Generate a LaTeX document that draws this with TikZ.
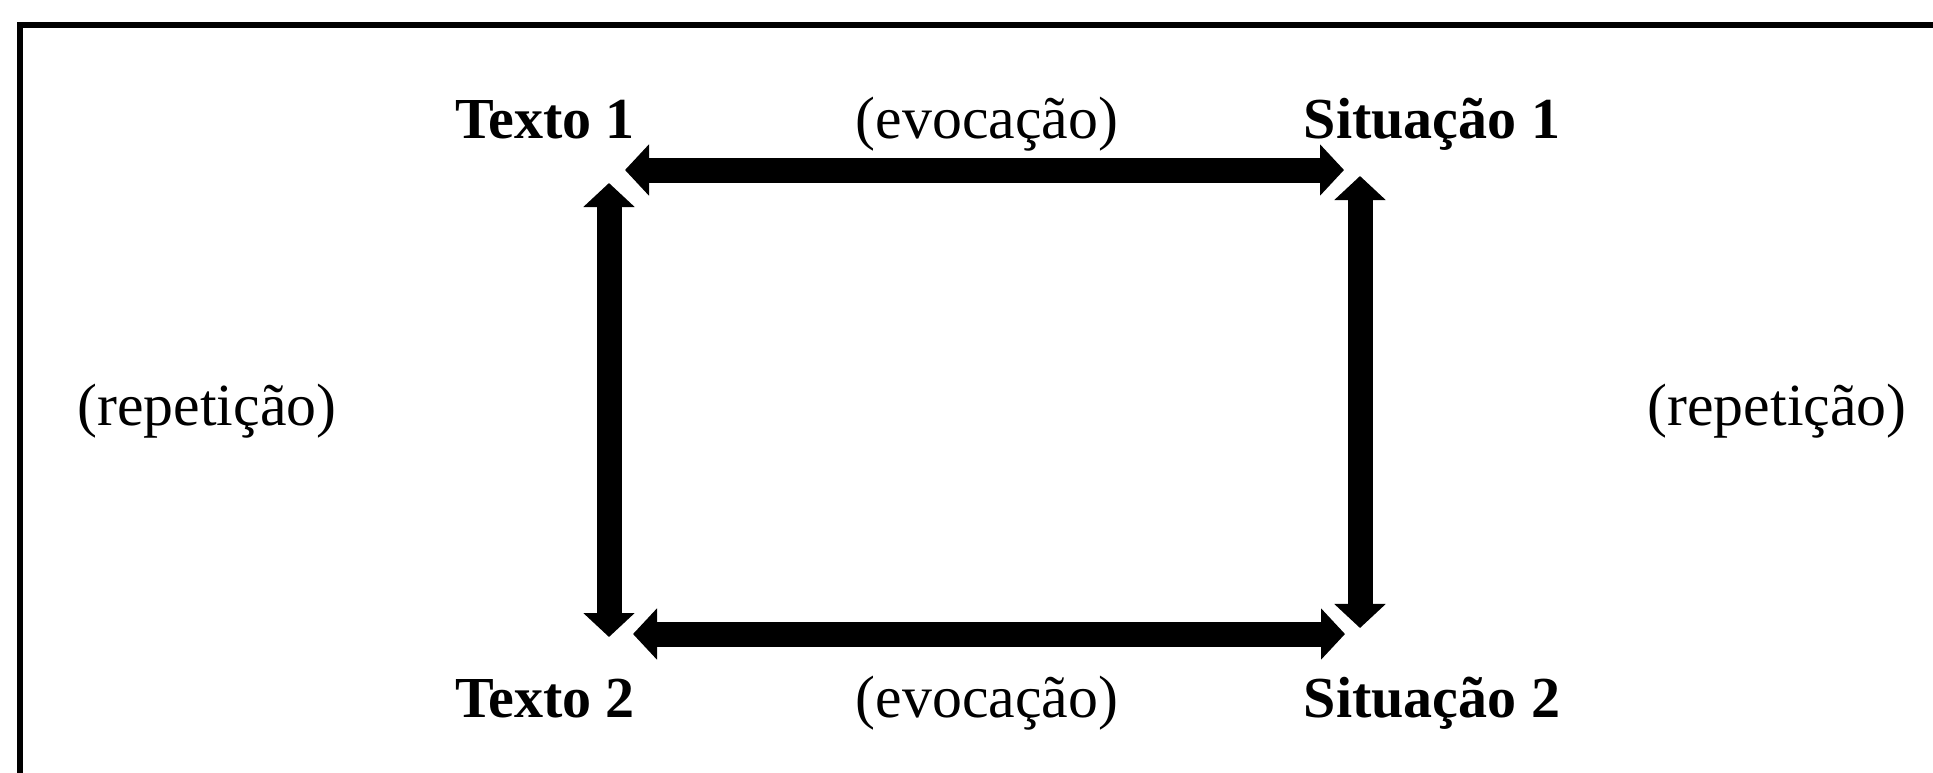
\documentclass[tikz,border=0pt]{standalone}
\usepackage{fontspec}
\setmainfont{Liberation Serif}
\usepackage{tikz}
\usetikzlibrary{arrows.meta, positioning}
\tikzset{
  corner/.style={inner sep=0pt, anchor=base, font=\fontsize{16.5}{20}\selectfont\bfseries},
  link/.style={inner sep=0pt, anchor=base, font=\fontsize{17}{20}\selectfont},
  bigarrow/.style={
    line width=0.25cm,
    {Triangle[length=0.24cm, width=0.5cm]}-{Triangle[length=0.24cm, width=0.5cm]}
  },
}

\begin{document}
\begin{tikzpicture}[x=0.01cm, y=-0.01cm]
    \clip (0,0) rectangle (1933,772);
    \draw[line width=0.06cm] (20,25) rectangle (1990,830);

    \node[corner] (texto1) at (545,138) {Texto 1};
    \node[corner] (sit1) at (1432,138) {Situação 1};
    \node[corner] (texto2) at (545,717) {Texto 2};
    \node[corner] (sit2) at (1432,717) {Situação 2};
    \node[link] (evoc1) at (987,138) {(evocação)};
    \node[link] (evoc2) at (987,717) {(evocação)};
    \node[link] (rep1) at (207,425) {(repetição)};
    \node[link] (rep2) at (1777,425) {(repetição)};

    % arrow ends
    \coordinate (t1h) at (625,170);
    \coordinate (s1h) at (1344,170);
    \coordinate (t1v) at (609,183);
    \coordinate (t2v) at (609,637);
    \coordinate (t2h) at (633,634);
    \coordinate (s2h) at (1345,634);
    \coordinate (s1v) at (1360,176);
    \coordinate (s2v) at (1360,628);

    \draw[bigarrow] (t1h) -- (s1h);
    \draw[bigarrow] (t2h) -- (s2h);
    \draw[bigarrow] (t1v) -- (t2v);
    \draw[bigarrow] (s1v) -- (s2v);
\end{tikzpicture}
\end{document}
